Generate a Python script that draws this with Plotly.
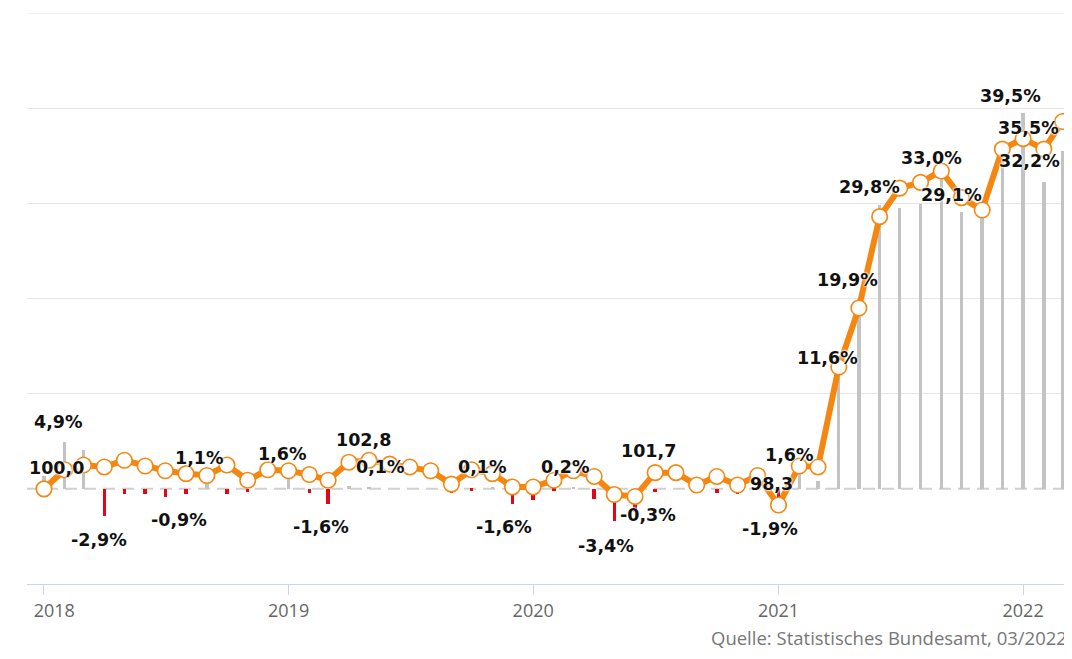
import pandas as pd
import plotly.graph_objects as go

# ---- data ----
months = pd.date_range("2018-01-01", periods=51, freq="MS")

index_values = [
    100.0, 102.0, 102.5, 102.3, 103.0, 102.4, 101.9, 101.6, 101.4, 102.5, 100.9, 102.0,
    101.9, 101.5, 100.9, 102.8, 103.0, 102.6, 102.3, 101.9, 100.5, 102.0, 101.6, 100.2,
    100.2, 100.9, 101.9, 101.3, 99.4, 99.2, 101.7, 101.7, 100.4, 101.3, 100.4, 101.4,
    98.3, 102.4, 102.3, 112.8, 119.0, 128.6, 131.6, 132.2, 133.4, 130.6, 129.3, 135.7,
    136.8, 135.7, 138.6,
]

yoy_change = [
    1.3, 4.9, 4.1, -2.9, -0.5, -0.5, -0.9, -0.5, 1.1, -0.5, -0.3, 0.0,
    1.6, -0.4, -1.6, 0.3, 0.1, 0.0, 0.0, 0.0, -0.4, -0.2, 0.1, -1.6,
    -1.2, -0.2, 0.2, -1.1, -3.4, -2.4, -0.3, 0.0, 0.0, -0.4, -0.5, -0.1,
    -1.9, 1.6, 0.8, 11.6, 19.9, 29.8, 29.5, 29.9, 33.0, 29.1, 28.8, 34.6,
    39.5, 32.2, 35.5,
]

label_texts = [
    "4,9%", "100,0", "-2,9%", "-0,9%", "1,1%", "1,6%", "-1,6%", "102,8", "0,1%",
    "0,1%", "-1,6%", "0,2%", "-3,4%", "101,7", "-0,3%", "98,3", "-1,9%", "1,6%",
    "11,6%", "19,9%", "29,8%", "33,0%", "29,1%", "39,5%", "35,5%", "32,2%",
]
label_dates = [
    "2018-01-22", "2018-01-19", "2018-03-24", "2018-07-21", "2018-08-21", "2018-12-23",
    "2019-02-18", "2019-04-23", "2019-05-18", "2019-10-18", "2019-11-18", "2020-02-18",
    "2020-04-18", "2020-06-21", "2020-06-20", "2020-12-21", "2020-12-19", "2021-01-18",
    "2021-03-15", "2021-04-14", "2021-05-17", "2021-08-17", "2021-09-16", "2021-12-13",
    "2022-01-09", "2022-01-10",
]
label_levels = [
    107.0, 102.2, 94.6, 96.7, 103.2, 103.7, 96.0, 105.1, 102.3,
    102.3, 96.0, 102.3, 94.0, 104.0, 97.2, 100.5, 95.8, 103.6,
    113.7, 121.9, 131.75, 134.8, 130.9, 141.3, 137.9, 134.5,
]

year_ticks = ["2018-01-01", "2019-01-01", "2020-01-01", "2021-01-01", "2022-01-01"]
year_labels = ["\u2007\u20072018", "2019", "2020", "2021", "2022"]
grid_levels = [110, 120, 130, 140, 150]
source_text = "Quelle: Statistisches Bundesamt, 03/2022"

BASE = 100.0
TOP = 150.0
ORANGE = "#f5860f"

fig = go.Figure()

pos_x = [d for d, v in zip(months, yoy_change) if v > 0]
pos_y = [v for v in yoy_change if v > 0]
neg_x = [d for d, v in zip(months, yoy_change) if v < 0]
neg_y = [v for v in yoy_change if v < 0]

bar_w = 4.4e8  # ms
fig.add_trace(go.Bar(x=pos_x, y=pos_y, base=BASE, marker=dict(color="#c3c3c3", line=dict(width=0)),
                     width=bar_w, showlegend=False, hoverinfo="skip"))
fig.add_trace(go.Bar(x=neg_x, y=neg_y, base=BASE, marker=dict(color="#e3061b", line=dict(width=0)),
                     width=bar_w, showlegend=False, hoverinfo="skip"))

fig.add_trace(go.Scatter(
    x=months, y=index_values, mode="lines+markers",
    line=dict(color=ORANGE, width=6),
    marker=dict(size=15.5, color="white", line=dict(color=ORANGE, width=1.6)),
    showlegend=False,
))

for t, d, lv in zip(label_texts, label_dates, label_levels):
    fig.add_annotation(
        x=d, y=lv, text=t, showarrow=False, xanchor="center", yanchor="middle",
        font=dict(family="DejaVu Sans", size=17.5, color="#111111", weight="bold",
                  shadow="0 0 2px #fff, 0 0 2px #fff, 0 0 3px #fff"),
    )

fig.add_annotation(
    x=0.9962, y=-0.1173, xref="paper", yref="paper", text=source_text, showarrow=False,
    xanchor="right", yanchor="bottom", borderpad=0,
    font=dict(family="Open Sans", size=18.5, color="#777777"),
)

fig.add_shape(type="line", xref="paper", yref="y", x0=0, x1=1, y0=BASE, y1=BASE,
              line=dict(color="#d0d0d0", width=2, dash="12px,7px"), layer="below")
fig.add_shape(type="line", xref="paper", yref="y", x0=0, x1=1, y0=TOP, y1=TOP,
              line=dict(color="#e6e6e6", width=1), layer="below")

# page body has an 8px margin: size the figure so the plot lands where the reference's does
fig.update_layout(
    width=1064, height=643,
    margin=dict(l=19, r=0, t=5, b=67),
    paper_bgcolor="white", plot_bgcolor="white",
    barmode="overlay", bargap=0,
    showlegend=False,
)
fig.update_xaxes(
    type="date", range=["2017-12-06 16:00", "2022-03-15"],
    tickvals=year_ticks, ticktext=year_labels,
    showgrid=False, zeroline=False,
    showline=True, linecolor="#ccd6eb", linewidth=1,
    ticks="outside", ticklen=10, tickcolor="#ccd6eb", tickwidth=1,
    tickfont=dict(family="Open Sans", size=18, color="#666666"),
)
fig.update_yaxes(
    range=[90, TOP], tickvals=grid_levels, showticklabels=False,
    showgrid=True, gridcolor="#e6e6e6", gridwidth=1, zeroline=False, showline=False,
)

fig.write_html("out.html")
